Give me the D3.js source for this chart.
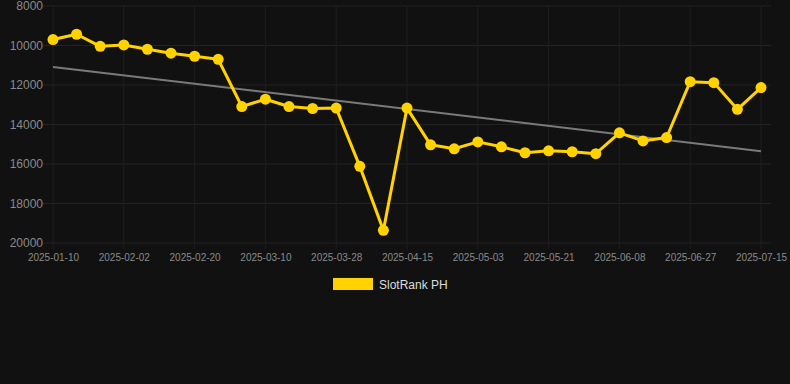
<!DOCTYPE html>
<html>
<head>
<meta charset="utf-8">
<script src="https://cdn.jsdelivr.net/npm/d3@7"></script>
<style>
  html, body { margin: 0; padding: 0; background: #111111; }
  svg { display: block; font-family: "Liberation Sans", Arial, sans-serif; }
</style>
</head>
<body>
<div id="chart"></div>
<script>
let w = 790;
let h = 384;

// dates (every 3rd one gets a label)
let dates = [
  "2025-01-10", "2025-01-18", "2025-01-26", "2025-02-02", "2025-02-08", "2025-02-14",
  "2025-02-20", "2025-02-26", "2025-03-04", "2025-03-10", "2025-03-16", "2025-03-22",
  "2025-03-28", "2025-04-03", "2025-04-09", "2025-04-15", "2025-04-21", "2025-04-27",
  "2025-05-03", "2025-05-09", "2025-05-15", "2025-05-21", "2025-05-27", "2025-06-02",
  "2025-06-08", "2025-06-14", "2025-06-20", "2025-06-27", "2025-07-03", "2025-07-09",
  "2025-07-15"
];

let ranks = [
  9700, 9430, 10040, 9970, 10190, 10390, 10545, 10700, 13090, 12720, 13090, 13190,
  13170, 16120, 19360, 13170, 15030, 15230, 14880, 15130, 15430, 15330, 15380, 15480,
  14420, 14830, 14660, 11830, 11880, 13230, 12130
];

let yTicks = [8000, 10000, 12000, 14000, 16000, 18000, 20000];
let seriesName = "SlotRank PH";

let svg = d3.select("#chart")
  .append("svg")
    .attr("width", w)
    .attr("height", h)
;

svg.append("rect")
    .attr("width", w)
    .attr("height", h)
    .attr("fill", "#111111");

let x = d3.scalePoint()
    .domain(dates)
    .range([53, 761]);

let y = d3.scaleLinear()
    .domain([8000, 20000])
    .range([6, 243]);

let labelled = dates.filter(function(d, i) { return i % 3 == 0; });

// grid
let grid = svg.append("g").attr("class", "grid");
grid.selectAll(".hgrid")
  .data(yTicks)
  .enter().append("line")
    .attr("x1", 43)
    .attr("x2", 771)
    .attr("y1", function(d) { return y(d); })
    .attr("y2", function(d) { return y(d); })
    .attr("stroke", "#232323")
    .attr("stroke-width", 1);

grid.selectAll(".vgrid")
  .data(labelled)
  .enter().append("line")
    .attr("x1", function(d) { return x(d); })
    .attr("x2", function(d) { return x(d); })
    .attr("y1", 6)
    .attr("y2", 249)
    .attr("stroke", "#1e1e1e")
    .attr("stroke-width", 1);

// axes
let yAxis = d3.axisLeft(y).tickValues(yTicks).tickSize(0).tickPadding(0).tickFormat(d3.format("d"));
svg.append("g")
    .attr("transform", "translate(43,0)")
    .call(yAxis)
    .call(function(g) { g.select(".domain").remove(); })
    .selectAll("text")
      .attr("fill", "#8a8a8a")
      .attr("font-size", 12)
      .attr("font-family", "Liberation Sans, Arial, sans-serif");

let xAxis = d3.axisBottom(x).tickValues(labelled).tickSize(0).tickPadding(0);
svg.append("g")
    .attr("transform", "translate(0,254)")
    .call(xAxis)
    .call(function(g) { g.select(".domain").remove(); })
    .selectAll("text")
      .attr("dy", "0.71em")
      .attr("fill", "#8a8a8a")
      .attr("font-size", 10)
      .attr("font-family", "Liberation Sans, Arial, sans-serif");

// trend line (least squares over the series)
let n = ranks.length;
let mx = d3.mean(ranks, function(d, i) { return i; });
let my = d3.mean(ranks);
let sxy = d3.sum(ranks, function(d, i) { return (i - mx) * (d - my); });
let sxx = d3.sum(ranks, function(d, i) { return (i - mx) * (i - mx); });
let slope = sxy / sxx;
let icpt = my - slope * mx;
let trend = [0, n - 1].map(function(i) { return { d: dates[i], v: icpt + slope * i }; });

let lineFunction = d3.line()
  .x(function(d) { return x(d.d); })
  .y(function(d) { return y(d.v); });

svg.append("path")
    .attr("d", lineFunction(trend))
    .attr("stroke", "#7a7a7a")
    .attr("stroke-width", 2)
    .attr("fill", "none");

// series
let pts = dates.map(function(d, i) { return { d: d, v: ranks[i] }; });

svg.append("path")
    .attr("d", lineFunction(pts))
    .attr("stroke", "#FFD200")
    .attr("stroke-width", 3)
    .attr("stroke-linejoin", "round")
    .attr("fill", "none");

svg.selectAll(".dot")
  .data(pts)
  .enter().append("circle")
    .attr("cx", function(d) { return x(d.d); })
    .attr("cy", function(d) { return y(d.v); })
    .attr("r", 5.5)
    .attr("fill", "#FFD200");

// legend
let legend = svg.append("g").attr("class", "legend");
legend.append("rect")
    .attr("x", 333)
    .attr("y", 278)
    .attr("width", 40)
    .attr("height", 12)
    .attr("fill", "#FFD200");
legend.append("text")
    .attr("x", 379)
    .attr("y", 289)
    .text(seriesName)
    .attr("font-size", 12)
    .attr("fill", "#dddddd");
</script>
</body>
</html>
